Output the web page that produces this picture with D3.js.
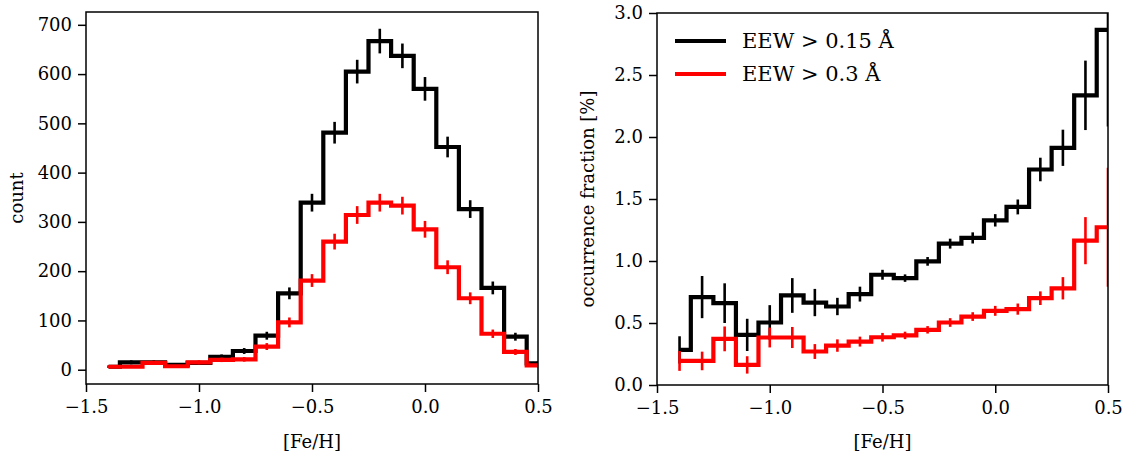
<!DOCTYPE html>
<html>
<head>
<meta charset="utf-8">
<script src="https://cdn.jsdelivr.net/npm/d3@7"></script>
<style>
  body { margin: 0; background: #fff; }
  svg { display: block; }
  text { font-family: "DejaVu Serif", serif; fill: #000; }
</style>
</head>
<body>
<svg id="chart" width="1129" height="457"></svg>
<script>
// ---- data ----
const feh = [-1.4, -1.3, -1.2, -1.1, -1.0, -0.9, -0.8, -0.7, -0.6, -0.5, -0.4, -0.3, -0.2, -0.1, 0.0, 0.1, 0.2, 0.3, 0.4, 0.5];

const countBlack = [6, 15, 15, 10, 14, 26, 38, 69, 155, 339, 481, 605, 667, 637, 570, 452, 326, 166, 67, 13];
const countBlackErr = [2.5, 4, 4, 3, 4, 5, 6, 8, 12, 18, 22, 24, 25, 25, 24, 21, 18, 13, 8, 4];
const countRed = [6, 6, 14, 7, 15, 20, 21, 47, 96, 181, 260, 314, 339, 333, 285, 208, 145, 73, 36, 9];
const countRedErr = [2.5, 2.5, 4, 2.6, 4, 4.5, 4.6, 7, 10, 13, 16, 18, 18, 18, 17, 14, 12, 8.5, 6, 3];

const fracBlack = [0.283, 0.709, 0.66, 0.404, 0.504, 0.722, 0.665, 0.633, 0.733, 0.889, 0.862, 0.997, 1.14, 1.186, 1.328, 1.436, 1.738, 1.913, 2.336, 2.864];
const fracBlackErr = [0.11, 0.17, 0.16, 0.13, 0.14, 0.14, 0.11, 0.07, 0.06, 0.04, 0.03, 0.035, 0.04, 0.045, 0.05, 0.06, 0.095, 0.146, 0.28, 0.78];
const fracRed = [0.194, 0.194, 0.372, 0.162, 0.383, 0.383, 0.27, 0.318, 0.35, 0.385, 0.40, 0.445, 0.504, 0.552, 0.598, 0.612, 0.70, 0.78, 1.164, 1.272];
const fracRedErr = [0.08, 0.075, 0.1, 0.07, 0.08, 0.085, 0.06, 0.05, 0.04, 0.035, 0.03, 0.03, 0.035, 0.035, 0.04, 0.045, 0.055, 0.09, 0.19, 0.48];

const xTicks = [-1.5, -1.0, -0.5, 0.0, 0.5];
const countTicks = [0, 100, 200, 300, 400, 500, 600, 700];
const fracTicks = [0.0, 0.5, 1.0, 1.5, 2.0, 2.5, 3.0];
const legendLabels = ["EEW > 0.15 Å", "EEW > 0.3 Å"];
const colors = ["#000000", "#ff0000"];

const svg = d3.select("#chart");
const FS = 18;

function panel(opts) {
  const { id, left, right, top, bottom, yDomain, yTicks, yFmt, series, ylabel, ylabelX } = opts;
  const x = d3.scaleLinear().domain([-1.5, 0.5]).range([left, right]);
  const y = d3.scaleLinear().domain(yDomain).range([bottom, top]);
  const g = svg.append("g");

  g.append("clipPath").attr("id", id).append("rect")
    .attr("x", left).attr("y", top).attr("width", right - left).attr("height", bottom - top);

  const plot = g.append("g").attr("clip-path", `url(#${id})`);
  const line = d3.line().x((d, i) => x(feh[i])).y(d => y(d)).curve(d3.curveStep);

  series.forEach(s => {
    plot.append("path").attr("d", line(s.vals))
      .attr("fill", "none").attr("stroke", s.color).attr("stroke-width", 4.2)
      .attr("stroke-linejoin", "miter").attr("stroke-linecap", "butt");
    plot.selectAll(null).data(s.vals).enter().append("line")
      .attr("x1", (d, i) => x(feh[i])).attr("x2", (d, i) => x(feh[i]))
      .attr("y1", (d, i) => y(d - s.err[i])).attr("y2", (d, i) => y(d + s.err[i]))
      .attr("stroke", s.color).attr("stroke-width", 2.6);
  });

  // frame
  g.append("rect").attr("x", left).attr("y", top).attr("width", right - left).attr("height", bottom - top)
    .attr("fill", "none").attr("stroke", "#000").attr("stroke-width", 1.5);

  const xa = g.append("g").attr("transform", `translate(0,${bottom})`)
    .call(d3.axisBottom(x).tickValues(xTicks).tickFormat(d3.format(".1f")).tickSize(8).tickPadding(8));
  xa.select(".domain").remove();
  xa.selectAll("line").attr("stroke-width", 1.5);
  xa.selectAll("text").attr("font-size", FS).style("font-family", "DejaVu Serif");

  const ya = g.append("g").attr("transform", `translate(${left},0)`)
    .call(d3.axisLeft(y).tickValues(yTicks).tickFormat(yFmt).tickSize(8).tickPadding(6));
  ya.select(".domain").remove();
  ya.selectAll("line").attr("stroke-width", 1.5);
  ya.selectAll("text").attr("font-size", FS).style("font-family", "DejaVu Serif");

  g.append("text").attr("x", (left + right) / 2).attr("y", 448)
    .attr("text-anchor", "middle").attr("font-size", FS).text("[Fe/H]");
  g.append("text").attr("transform", `translate(${ylabelX},${(top + bottom) / 2}) rotate(-90)`)
    .attr("text-anchor", "middle").attr("dominant-baseline", "central")
    .attr("font-size", FS).text(ylabel);
  return { x, y, g };
}

panel({
  id: "clipL", left: 86, right: 538, top: 12, bottom: 384,
  yDomain: [-29, 726], yTicks: countTicks, yFmt: d3.format("d"),
  series: [
    { vals: countBlack, err: countBlackErr, color: colors[0] },
    { vals: countRed, err: countRedErr, color: colors[1] }
  ],
  ylabel: "count", ylabelX: 16
});

panel({
  id: "clipR", left: 657, right: 1108, top: 13, bottom: 385,
  yDomain: [0, 3.0], yTicks: fracTicks, yFmt: d3.format(".1f"),
  series: [
    { vals: fracBlack, err: fracBlackErr, color: colors[0] },
    { vals: fracRed, err: fracRedErr, color: colors[1] }
  ],
  ylabel: "occurrence fraction [%]", ylabelX: 587
});

// legend
const lg = svg.append("g");
legendLabels.forEach((lab, i) => {
  const yy = 41 + i * 33;
  lg.append("line").attr("x1", 675).attr("x2", 726).attr("y1", yy).attr("y2", yy)
    .attr("stroke", colors[i]).attr("stroke-width", 4.2);
  lg.append("text").attr("x", 742).attr("y", yy).attr("dominant-baseline", "central")
    .attr("font-size", 21).text(lab);
});
</script>
</body>
</html>
